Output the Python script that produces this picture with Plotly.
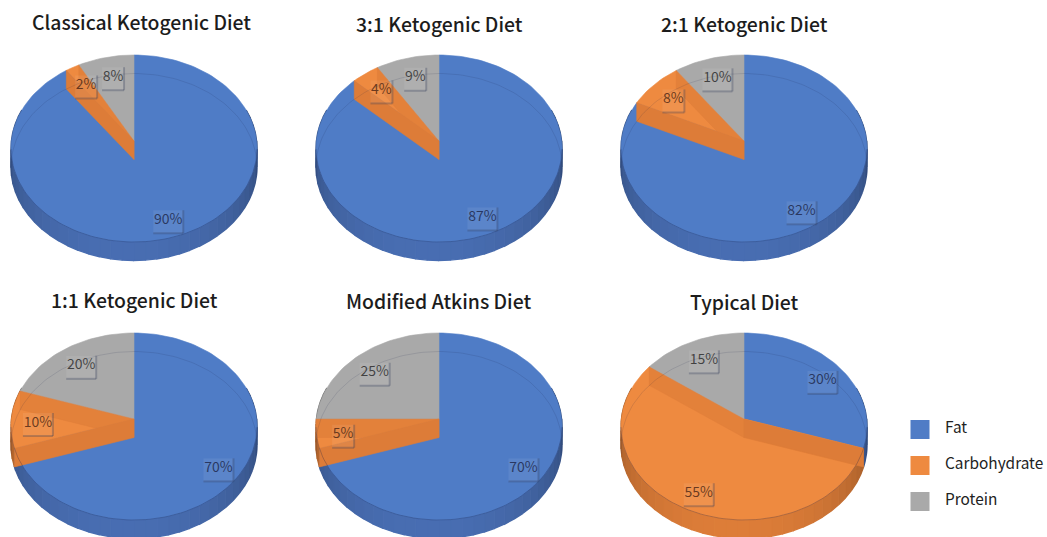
import numpy as np
import plotly.graph_objects as go

# ---- data -------------------------------------------------------------
series_names = ["Fat", "Carbohydrate", "Protein"]
diet_names = ["Classical Ketogenic Diet", "3:1 Ketogenic Diet", "2:1 Ketogenic Diet",
              "1:1 Ketogenic Diet", "Modified Atkins Diet", "Typical Diet"]
fat_values = [90, 87, 82, 70, 70, 30]
carb_values = [2, 4, 8, 10, 5, 55]
protein_values = [8, 9, 10, 20, 25, 15]

# ---- layout / style (pixels in a 1047 x 537 page) ----------------------
W, H = 1047, 537
centres_x = [134, 439, 744, 134, 439, 744]
apex_y = [141, 141, 141, 419, 419, 419]
title_x = [141, 439, 744, 134, 438, 744]
title_y = [22, 23, 23, 299, 300, 301]
top_colors = ["#4f7cc6", "#ee8a40", "#a9a9a9"]
side_rgb = [(74, 112, 182), (226, 128, 58), (150, 150, 150)]
text_colors = ["rgba(15,25,65,0.85)", "rgba(70,25,5,0.85)", "rgba(30,30,30,0.85)"]
WALL = "#dd7c38"
FONT = "Noto Sans CJK SC"
K, A, B, DEPTH = 0.0802, 122.6, 92.9, 18.5


def project(theta_deg, r=1.0):
    t = np.radians(theta_deg)
    u, v = r * np.sin(t), r * np.cos(t)
    d = 1 + K * v
    return A * u / d, B * v / d


def add_poly(fig, ax, x, y, color, line=None, lw=0.6):
    fig.add_trace(go.Scatter(x=x, y=y, mode="lines", fill="toself", fillcolor=color,
                             line=dict(color=line or color, width=lw), hoverinfo="skip",
                             showlegend=False, xaxis=f"x{ax}", yaxis=f"y{ax}"))


def arc(a0, a1, step=2.0):
    n = max(2, int(abs(a1 - a0) / step) + 1)
    return np.linspace(a0, a1, n)


fig = go.Figure()
layout = {}
shapes, annotations = [], []

for i, name in enumerate(diet_names):
    ax = i + 1
    vals = [fat_values[i], carb_values[i], protein_values[i]]
    cx, ay = centres_x[i], apex_y[i]
    left, right = cx - 130, cx + 130
    top, bottom = ay - 92, min(H, ay + 125)
    sfx = "" if ax == 1 else str(ax)
    layout[f"xaxis{sfx}"] = dict(domain=[left / W, right / W], range=[-130, 130], visible=False,
                                 fixedrange=True)
    layout[f"yaxis{sfx}"] = dict(domain=[1 - bottom / H, 1 - top / H], range=[-(bottom - ay), 92],
                                 visible=False, fixedrange=True)

    edges = np.cumsum([0] + vals) * 3.6

    # outer side of the pie, shaded by angle
    for s in range(3):
        a0, a1 = max(edges[s], 70), min(edges[s + 1], 290)
        if a1 <= a0:
            continue
        ticks = np.append(np.arange(a0, a1, 5.0), a1)
        for t0, t1 in zip(ticks[:-1], ticks[1:]):
            f = 0.70 + 0.28 * np.cos(np.radians((t0 + t1) / 2 - 185))
            col = "rgb(%d,%d,%d)" % tuple(min(255, int(c * f)) for c in side_rgb[s])
            tt = np.linspace(t0, t1, 3)
            X, Y = project(tt)
            add_poly(fig, ax, list(X) + list(X[::-1]), list(Y) + list((Y - DEPTH)[::-1]), col, lw=1.4)

    # top faces
    for s in range(3):
        X, Y = project(arc(edges[s], edges[s + 1]))
        add_poly(fig, ax, [0] + list(X) + [0], [0] + list(Y) + [0], top_colors[s])

    # cut walls of the carbohydrate slice
    for edge, col in ((edges[2], "rgba(221,124,56,0.65)"), (edges[1], WALL)):
        X, Y = project(edge)
        add_poly(fig, ax, [0, X, X, 0, 0], [0, Y, Y - DEPTH, -DEPTH, 0], col)

    # faint rim lines
    X, Y = project(arc(-100, 100))
    fig.add_trace(go.Scatter(x=X, y=Y - DEPTH, mode="lines", hoverinfo="skip", showlegend=False,
                             line=dict(color="rgba(20,30,70,0.13)", width=1),
                             xaxis=f"x{ax}", yaxis=f"y{ax}"))
    X, Y = project(arc(95, 265))
    fig.add_trace(go.Scatter(x=X, y=Y, mode="lines", hoverinfo="skip", showlegend=False,
                             line=dict(color="rgba(20,30,70,0.28)", width=1),
                             xaxis=f"x{ax}", yaxis=f"y{ax}"))

    # percentage labels with their small shadowed boxes
    for s in range(3):
        mid = (edges[s] + edges[s + 1]) / 2
        X, Y = project(mid, 0.8)
        X, Y = X + 2, Y - 4
        label = f"{vals[s]}%"
        hw = 11 if len(label) == 2 else 15
        xr, yr = f"x{ax}", f"y{ax}"
        shapes.append(dict(type="rect", xref=xr, yref=yr, x0=X - hw, x1=X + hw, y0=Y - 13, y1=Y + 10,
                           fillcolor="rgba(255,255,255,0.07)", line=dict(width=0), layer="above"))
        shapes.append(dict(type="line", xref=xr, yref=yr, x0=X + hw, x1=X + hw, y0=Y - 13, y1=Y + 10,
                           line=dict(color="rgba(50,60,90,0.30)", width=2)))
        shapes.append(dict(type="line", xref=xr, yref=yr, x0=X - hw, x1=X + hw, y0=Y - 13, y1=Y - 13,
                           line=dict(color="rgba(50,60,90,0.30)", width=2)))
        fig.add_trace(go.Scatter(x=[X], y=[Y], mode="text", text=[label], hoverinfo="skip",
                                 showlegend=False, xaxis=xr, yaxis=yr,
                                 textfont=dict(family=FONT, size=14, color=text_colors[s])))

    annotations.append(dict(text=name, x=title_x[i] / W, y=1 - title_y[i] / H, xref="paper", yref="paper",
                            xanchor="center", yanchor="middle", showarrow=False,
                            font=dict(family=FONT, size=19.4, color="#1c1c1c", weight=500)))

# legend drawn as its own small axis
layout["xaxis7"] = dict(domain=[905 / W, 1], range=[905, W], visible=False, fixedrange=True)
layout["yaxis7"] = dict(domain=[1 - 519.5 / H, 1 - 411.5 / H], type="category",
                        categoryorder="array", categoryarray=series_names[::-1],
                        range=[-0.5, 2.5], visible=False, fixedrange=True)
for s, nm in enumerate(series_names):
    fig.add_trace(go.Scatter(x=[920], y=[nm], mode="markers", hoverinfo="skip", showlegend=False,
                             marker=dict(symbol="square", size=19, color=top_colors[s], line=dict(width=0)),
                             xaxis="x7", yaxis="y7"))
    fig.add_trace(go.Scatter(x=[945], y=[nm], mode="text", text=[nm], textposition="middle right",
                             hoverinfo="skip", showlegend=False, xaxis="x7", yaxis="y7",
                             textfont=dict(family=FONT, size=15.4, color="#222222")))

fig.update_layout(width=W, height=H, margin=dict(l=0, r=0, t=0, b=0), paper_bgcolor="white",
                  plot_bgcolor="rgba(0,0,0,0)", showlegend=False, shapes=shapes,
                  annotations=annotations, **layout)
fig.write_html("out.html", config={"displayModeBar": False},
               post_script="document.body.style.margin='0';document.body.style.overflow='hidden';")
